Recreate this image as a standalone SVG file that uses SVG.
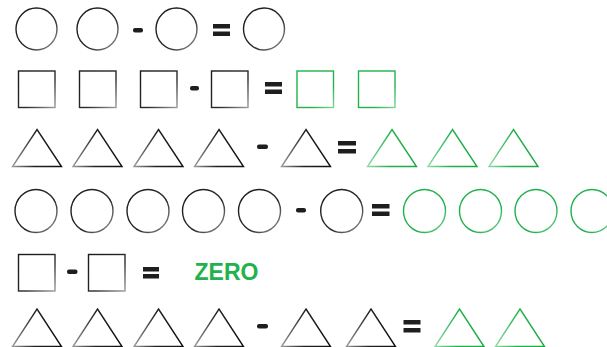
<svg xmlns="http://www.w3.org/2000/svg" width="607" height="347" viewBox="0 0 607 347">
<defs>
<linearGradient id="gk" x1="0" y1="0" x2="1" y2="1">
<stop offset="0" stop-color="#1a1a1a"/><stop offset="0.6" stop-color="#2a2a2a"/><stop offset="1" stop-color="#9a9a9a"/>
</linearGradient>
<linearGradient id="gg" x1="0" y1="0" x2="1" y2="1">
<stop offset="0" stop-color="#1db34a"/><stop offset="0.7" stop-color="#22b14c"/><stop offset="1" stop-color="#7fd39a"/>
</linearGradient>
<linearGradient id="gt" x1="0" y1="0" x2="1" y2="0">
<stop offset="0" stop-color="#9a9a9a"/><stop offset="0.45" stop-color="#222"/><stop offset="1" stop-color="#111"/>
</linearGradient>
<linearGradient id="gtg" x1="0" y1="0" x2="1" y2="0">
<stop offset="0" stop-color="#8fdaa5"/><stop offset="0.45" stop-color="#22b14c"/><stop offset="1" stop-color="#1aa844"/>
</linearGradient>
</defs>
<style>
.k{fill:none;stroke:url(#gk);stroke-width:1.4}
.g{fill:none;stroke:url(#gg);stroke-width:1.4}
.kt{fill:none;stroke:url(#gt);stroke-width:1.4;stroke-linejoin:miter}
.gt{fill:none;stroke:url(#gtg);stroke-width:1.4;stroke-linejoin:miter}
.op{fill:#1e1e1e}
.zero{font-family:"Liberation Sans",Arial,sans-serif;font-weight:bold;font-size:23px;fill:#22b14c}
</style>

<g id="row1">
<ellipse class="k" cx="36.5" cy="29" rx="20.5" ry="21"/>
<ellipse class="k" cx="97.5" cy="29" rx="20.5" ry="21"/>
<rect class="op" x="133" y="28" width="10" height="4.5" rx="2"/>
<ellipse class="k" cx="176.5" cy="29" rx="20.5" ry="21"/>
<rect class="op" x="213" y="24" width="17" height="4.5"/>
<rect class="op" x="213" y="31.5" width="17" height="4.5"/>
<ellipse class="k" cx="264" cy="29" rx="20.5" ry="21"/>
</g>

<g id="row2">
<rect class="k" x="18.5" y="71" width="36.5" height="36.5"/>
<rect class="k" x="79.5" y="71" width="36.5" height="36.5"/>
<rect class="k" x="140.5" y="71" width="36.5" height="36.5"/>
<rect class="op" x="190" y="86" width="9" height="4.5" rx="2"/>
<rect class="k" x="211.5" y="71" width="36.5" height="36.5"/>
<rect class="op" x="265" y="82" width="17" height="4.5"/>
<rect class="op" x="265" y="89.5" width="17" height="4.5"/>
<rect class="g" x="297" y="71" width="36.5" height="36.5"/>
<rect class="g" x="358.5" y="71" width="36.5" height="36.5"/>
</g>

<g id="row3">
<path class="kt" d="M37 129.5 L61.5 166.5 L12.5 166.5 Z"/>
<path class="kt" d="M97.5 129.5 L122 166.5 L73 166.5 Z"/>
<path class="kt" d="M158.5 129.5 L183 166.5 L134 166.5 Z"/>
<path class="kt" d="M219 129.5 L243.5 166.5 L194.5 166.5 Z"/>
<rect class="op" x="257" y="144.5" width="11" height="4.5" rx="2"/>
<path class="kt" d="M306 129.5 L330.5 166.5 L281.5 166.5 Z"/>
<rect class="op" x="338" y="141" width="18" height="4.5"/>
<rect class="op" x="338" y="149" width="18" height="4.5"/>
<path class="gt" d="M392 129.5 L416.5 166.5 L367.5 166.5 Z"/>
<path class="gt" d="M452.5 129.5 L477 166.5 L428 166.5 Z"/>
<path class="gt" d="M513.5 129.5 L538 166.5 L489 166.5 Z"/>
</g>

<g id="row4">
<ellipse class="k" cx="36" cy="211" rx="21" ry="21.5"/>
<ellipse class="k" cx="92" cy="211" rx="21" ry="21.5"/>
<ellipse class="k" cx="148" cy="211" rx="21" ry="21.5"/>
<ellipse class="k" cx="203.5" cy="211" rx="21" ry="21.5"/>
<ellipse class="k" cx="259.5" cy="211" rx="21" ry="21.5"/>
<rect class="op" x="296" y="208" width="10" height="4.5" rx="2"/>
<ellipse class="k" cx="341.7" cy="211" rx="21" ry="21.5"/>
<rect class="op" x="372" y="204" width="17.5" height="4.5"/>
<rect class="op" x="372" y="211.5" width="17.5" height="4.5"/>
<ellipse class="g" cx="424.5" cy="211" rx="21" ry="21.5"/>
<ellipse class="g" cx="480.5" cy="211" rx="21" ry="21.5"/>
<ellipse class="g" cx="536" cy="211" rx="21" ry="21.5"/>
<ellipse class="g" cx="592" cy="211" rx="21" ry="21.5"/>
</g>

<g id="row5">
<rect class="k" x="18.5" y="254.5" width="36.5" height="36.5"/>
<rect class="op" x="67" y="269.5" width="10.5" height="4.5" rx="2"/>
<rect class="k" x="88.5" y="254.5" width="36.5" height="36.5"/>
<rect class="op" x="143" y="267" width="16" height="4.5"/>
<rect class="op" x="143" y="274" width="16" height="4.5"/>
<text class="zero" x="194.5" y="280">ZERO</text>
</g>

<g id="row6">
<path class="kt" d="M37 309 L61.5 346.5 L12.5 346.5 Z"/>
<path class="kt" d="M97.5 309 L122 346.5 L73 346.5 Z"/>
<path class="kt" d="M158.5 309 L183 346.5 L134 346.5 Z"/>
<path class="kt" d="M219 309 L243.5 346.5 L194.5 346.5 Z"/>
<rect class="op" x="257" y="324" width="11" height="4.5" rx="2"/>
<path class="kt" d="M306 309 L330.5 346.5 L281.5 346.5 Z"/>
<path class="kt" d="M371 309 L395.5 346.5 L346.5 346.5 Z"/>
<rect class="op" x="403.5" y="320" width="17" height="4.5"/>
<rect class="op" x="403.5" y="328" width="17" height="4.5"/>
<path class="gt" d="M459.5 309 L484 346.5 L435 346.5 Z"/>
<path class="gt" d="M520 309 L544.5 346.5 L495.5 346.5 Z"/>
</g>
</svg>
